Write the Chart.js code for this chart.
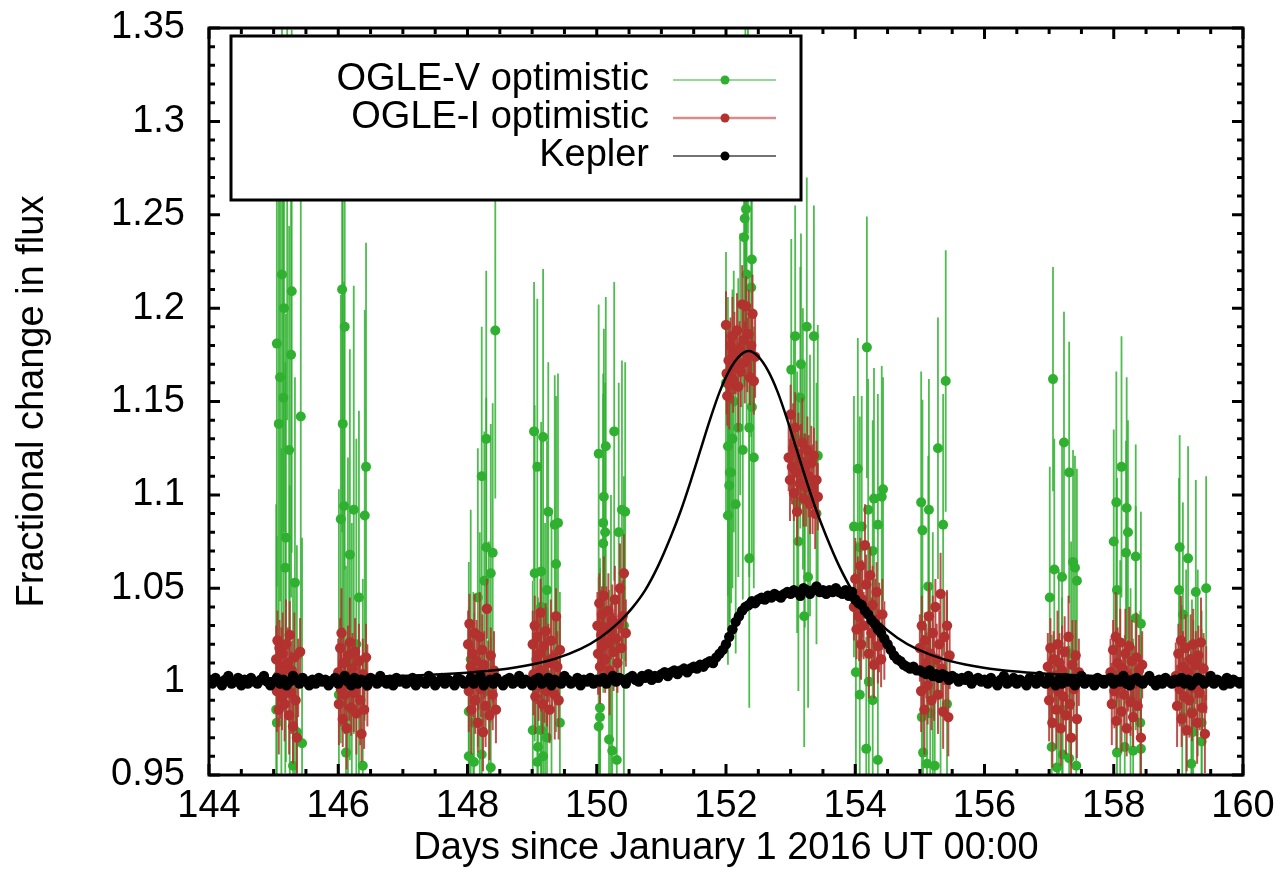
<!DOCTYPE html>
<html>
<head>
<meta charset="utf-8">
<title>Fractional change in flux</title>
<script src="https://cdn.jsdelivr.net/npm/chart.js@4.4.1/dist/chart.umd.min.js"></script>
<style>
  body { margin: 0; background: #fff; }
  canvas { display: block; }
</style>
</head>
<body>
<canvas id="fluxChart" width="1284" height="892"></canvas>
<script>
// Kepler light curve, one value every keplerStep days from keplerStart (one row per day)
const keplerStart = 144.0;
const keplerStep = 0.05;
const keplerFlux = [
  1.001, 0.999, 1.002, 1.000, 0.998, 1.001, 1.003, 0.999, 1.000, 1.002, 0.998, 1.001, 0.999, 1.002, 1.000, 0.999, 1.001, 1.003, 1.000, 0.998,
  1.000, 1.002, 0.999, 1.001, 0.998, 1.000, 1.003, 1.001, 0.999, 1.002, 1.000, 0.998, 1.001, 0.999, 1.002, 1.000, 1.001, 0.998, 1.000, 1.002,
  0.999, 1.001, 1.003, 1.000, 0.998, 1.002, 0.999, 1.001, 1.000, 0.998, 1.002, 1.001, 0.999, 1.003, 1.000, 0.999, 1.001, 0.998, 1.002, 1.000,
  1.001, 0.999, 1.000, 1.002, 0.998, 1.001, 1.000, 0.999, 1.003, 1.001, 0.998, 1.000, 1.002, 0.999, 1.001, 1.000, 0.998, 1.002, 1.001, 0.999,
  1.000, 1.002, 0.999, 1.001, 1.003, 0.998, 1.000, 1.001, 0.999, 1.002, 1.000, 0.998, 1.001, 1.002, 0.999, 1.000, 1.003, 0.999, 1.001, 1.000,
  0.998, 1.001, 1.002, 0.999, 1.000, 1.002, 0.998, 1.001, 1.000, 0.999, 1.003, 1.001, 0.999, 1.000, 1.002, 0.998, 1.001, 1.000, 1.002, 0.999,
  1.001, 1.000, 1.002, 0.999, 1.001, 1.003, 1.000, 1.002, 1.001, 0.999, 1.002, 1.003, 1.001, 1.000, 1.003, 1.002, 1.004, 1.001, 1.003, 1.002,
  1.004, 1.005, 1.003, 1.005, 1.006, 1.004, 1.006, 1.007, 1.005, 1.007, 1.008, 1.007, 1.009, 1.008, 1.010, 1.011, 1.010, 1.013, 1.015, 1.017,
  1.020, 1.024, 1.028, 1.032, 1.035, 1.038, 1.040, 1.041, 1.043, 1.042, 1.044, 1.045, 1.044, 1.046, 1.045, 1.047, 1.046, 1.045, 1.047, 1.048,
  1.047, 1.049, 1.048, 1.046, 1.050, 1.049, 1.047, 1.049, 1.051, 1.048, 1.049, 1.047, 1.049, 1.048, 1.050, 1.048, 1.047, 1.049, 1.046, 1.048,
  1.044, 1.042, 1.041, 1.038, 1.036, 1.033, 1.031, 1.028, 1.026, 1.023, 1.020, 1.017, 1.014, 1.012, 1.011, 1.009, 1.008, 1.007, 1.008, 1.006,
  1.006, 1.005, 1.004, 1.006, 1.003, 1.004, 1.002, 1.004, 1.003, 1.001, 1.003, 1.002, 1.000, 1.002, 1.001, 1.003, 0.999, 1.001, 1.002, 1.000,
  1.001, 0.999, 1.002, 1.000, 0.998, 1.001, 1.003, 0.999, 1.000, 1.002, 0.999, 1.001, 1.000, 0.998, 1.002, 1.001, 0.999, 1.003, 1.000, 0.999,
  1.002, 1.000, 0.998, 1.001, 0.999, 1.002, 1.000, 1.001, 0.998, 1.000, 1.003, 0.999, 1.001, 1.000, 0.998, 1.002, 1.000, 0.999, 1.001, 1.002,
  0.999, 1.001, 1.000, 1.003, 0.999, 0.998, 1.001, 1.002, 1.000, 0.999, 1.001, 1.003, 1.000, 0.998, 1.001, 0.999, 1.002, 1.000, 0.999, 1.001,
  1.000, 1.002, 0.999, 1.001, 0.998, 1.000, 1.002, 1.001, 0.999, 1.000, 1.003, 0.999, 1.001, 1.000, 0.998, 1.002, 0.999, 1.001, 1.000, 0.999,
  1.000
];

// model curve (no key entry)
const modelDays = [144.0, 144.35, 146.35, 147.35, 148.35, 148.85, 149.35, 149.75, 150.05, 150.35,
  150.55, 150.75, 150.95, 151.15, 151.30, 151.45, 151.60, 151.75, 151.90, 152.05,
  152.20, 152.35, 152.50, 152.65, 152.80, 152.95, 153.10, 153.25, 153.40, 153.55,
  153.75, 153.95, 154.15, 154.35, 154.65, 154.95, 155.35, 155.85, 156.35, 157.35,
  158.35, 160.0];
const modelFlux = [1.0014, 1.0015, 1.0025, 1.0035, 1.0058, 1.0082, 1.0122, 1.0175, 1.0235, 1.032,
  1.0395, 1.049, 1.062, 1.078, 1.0915, 1.107, 1.1235, 1.140, 1.155, 1.1665,
  1.174, 1.177, 1.174, 1.1665, 1.155, 1.140, 1.1235, 1.107, 1.0915, 1.078,
  1.062, 1.049, 1.0395, 1.032, 1.0235, 1.0175, 1.0122, 1.0082, 1.0058, 1.0035,
  1.0025, 1.0017];

// OGLE V band: [day, flux, error]
const ogleV = [
  [145.04,0.985,0.11],[145.05,1.181,0.13],[145.05,0.978,0.10],[145.08,1.138,0.12],[145.10,1.163,0.12],
  [145.12,1.005,0.12],[145.13,1.218,0.14],[145.15,1.152,0.13],[145.16,1.200,0.12],[145.18,1.061,0.11],
  [145.19,1.077,0.12],[145.21,1.290,0.15],[145.24,1.124,0.12],[145.25,0.995,0.11],[145.27,1.175,0.13],
  [145.28,1.209,0.14],[145.30,0.955,0.10],[145.33,1.053,0.11],[145.36,0.973,0.10],[145.42,1.142,0.13],
  [145.44,0.967,0.11],
  [146.01,0.993,0.11],[146.04,1.087,0.12],[146.06,1.210,0.13],[146.07,1.138,0.12],[146.09,1.094,0.12],
  [146.10,1.190,0.13],[146.12,0.962,0.10],[146.15,1.010,0.11],[146.18,1.068,0.11],[146.21,0.985,0.10],
  [146.24,1.092,0.12],[146.28,1.020,0.11],[146.32,1.045,0.10],[146.38,0.955,0.10],[146.41,1.089,0.11],
  [146.43,1.115,0.12],
  [148.02,0.984,0.08],[148.02,0.960,0.08],[148.05,1.012,0.08],[148.09,0.978,0.07],[148.10,0.957,0.08],
  [148.16,1.045,0.08],[148.19,1.000,0.08],[148.22,1.110,0.08],[148.22,0.961,0.07],[148.26,1.054,0.08],
  [148.29,1.130,0.09],[148.29,1.072,0.08],[148.33,0.995,0.08],[148.36,1.058,0.08],[148.36,0.954,0.07],
  [148.39,1.069,0.08],[148.43,1.188,0.09],
  [149.01,0.974,0.08],[149.03,1.134,0.08],[149.04,1.058,0.09],[149.08,1.115,0.09],[149.08,0.957,0.08],
  [149.09,0.965,0.08],[149.14,1.059,0.08],[149.14,1.040,0.09],[149.14,0.974,0.08],[149.17,1.131,0.09],
  [149.17,0.960,0.08],[149.20,1.005,0.08],[149.23,1.049,0.08],[149.23,0.970,0.07],[149.25,1.091,0.08],
  [149.30,1.010,0.08],[149.35,1.084,0.08],[149.37,1.063,0.09],[149.40,1.085,0.08],[149.43,0.978,0.07],
  [150.03,1.122,0.08],[150.03,0.976,0.08],[150.05,0.986,0.08],[150.05,0.981,0.08],[150.10,1.085,0.08],
  [150.10,1.074,0.08],[150.11,1.099,0.09],[150.13,1.080,0.08],[150.14,1.126,0.08],[150.19,0.969,0.08],
  [150.22,1.020,0.08],[150.24,0.963,0.08],[150.27,1.134,0.08],[150.31,0.958,0.07],[150.34,1.080,0.08],
  [150.39,1.092,0.08],[150.42,1.030,0.08],[150.44,1.091,0.08],
  [152.00,1.160,0.07],[152.03,1.126,0.08],[152.03,1.089,0.08],[152.05,1.105,0.08],[152.06,1.112,0.08],
  [152.08,1.112,0.07],[152.10,1.130,0.08],[152.12,1.150,0.07],[152.15,1.095,0.08],[152.19,1.136,0.08],
  [152.22,1.170,0.07],[152.26,1.124,0.08],[152.28,1.238,0.08],[152.29,1.248,0.09],[152.30,1.300,0.08],
  [152.31,1.253,0.08],[152.32,1.218,0.08],[152.34,1.330,0.09],[152.36,1.136,0.08],[152.36,1.066,0.08],
  [152.39,1.211,0.08],[152.40,1.226,0.08],[152.40,1.147,0.08],[152.43,1.120,0.07],
  [153.01,1.167,0.07],[153.05,1.115,0.07],[153.07,1.185,0.07],[153.10,1.096,0.07],[153.12,1.075,0.08],
  [153.15,1.152,0.07],[153.16,1.170,0.07],[153.19,1.130,0.07],[153.21,1.035,0.07],[153.22,1.099,0.07],
  [153.25,1.190,0.08],[153.27,1.056,0.07],[153.30,1.105,0.07],[153.36,1.185,0.07],[153.40,1.090,0.07],
  [153.42,1.121,0.07],
  [153.98,1.083,0.07],[154.01,1.005,0.07],[154.04,1.114,0.07],[154.07,1.072,0.07],[154.07,0.993,0.07],
  [154.10,1.083,0.07],[154.17,0.964,0.06],[154.18,1.179,0.07],[154.20,1.092,0.07],[154.21,1.000,0.07],
  [154.27,1.070,0.07],[154.27,0.990,0.07],[154.29,1.098,0.07],[154.35,1.084,0.07],[154.35,0.958,0.06],
  [154.41,1.099,0.07],[154.43,1.103,0.06],
  [155.02,1.096,0.07],[155.03,0.981,0.07],[155.04,1.081,0.07],[155.05,0.962,0.06],[155.11,0.956,0.07],
  [155.13,1.051,0.07],[155.14,1.092,0.07],[155.16,0.983,0.07],[155.20,1.010,0.07],[155.23,0.955,0.06],
  [155.28,1.125,0.07],[155.32,0.945,0.06],[155.36,1.084,0.07],[155.40,1.161,0.07],[155.42,0.988,0.06],
  [157.01,1.045,0.07],[157.04,0.965,0.06],[157.06,1.162,0.06],[157.08,1.060,0.07],[157.12,0.954,0.06],
  [157.15,1.000,0.06],[157.20,1.056,0.07],[157.20,0.985,0.06],[157.21,0.961,0.06],[157.23,1.128,0.07],
  [157.31,1.112,0.07],[157.31,0.959,0.06],[157.34,1.015,0.06],[157.37,1.064,0.06],[157.40,1.061,0.06],
  [157.42,0.955,0.06],[157.43,1.054,0.06],
  [158.00,1.075,0.06],[158.04,1.096,0.07],[158.05,1.049,0.06],[158.05,0.962,0.06],[158.10,1.005,0.06],
  [158.12,1.115,0.07],[158.17,0.965,0.06],[158.19,1.069,0.06],[158.20,1.093,0.07],[158.22,1.080,0.06],
  [158.26,0.990,0.06],[158.30,0.963,0.06],[158.34,1.067,0.06],[158.34,1.034,0.06],[158.41,0.978,0.06],
  [158.42,1.031,0.06],[158.42,0.964,0.06],
  [159.01,1.049,0.06],[159.02,1.072,0.06],[159.06,0.981,0.06],[159.07,1.036,0.06],[159.12,1.000,0.06],
  [159.15,1.066,0.06],[159.20,0.956,0.06],[159.21,0.984,0.06],[159.23,0.973,0.06],[159.27,1.048,0.06],
  [159.30,1.010,0.05],[159.36,0.978,0.06],[159.36,0.968,0.06],[159.43,1.050,0.06]
];

// OGLE I band: [day, flux, error]
const ogleI = [
  [145.04,1.012,0.018],[145.05,0.995,0.022],[145.06,1.022,0.016],[145.07,1.003,0.020],[145.08,0.985,0.024],
  [145.09,1.018,0.015],[145.10,0.999,0.019],[145.12,1.008,0.021],[145.13,0.992,0.018],[145.14,1.015,0.022],
  [145.16,1.001,0.016],[145.17,0.988,0.020],[145.19,1.020,0.024],[145.20,0.997,0.015],[145.22,1.010,0.019],
  [145.24,0.982,0.021],[145.25,1.025,0.018],[145.27,0.994,0.022],[145.28,1.006,0.016],[145.30,0.976,0.020],
  [145.32,1.013,0.024],[145.34,0.990,0.015],[145.36,0.970,0.019],[145.38,1.002,0.021],[145.41,1.016,0.018],
  [146.00,1.005,0.018],[146.01,0.988,0.022],[146.03,1.018,0.016],[146.04,0.996,0.020],[146.05,1.026,0.024],
  [146.07,0.980,0.015],[146.08,1.010,0.019],[146.10,0.993,0.021],[146.11,1.003,0.018],[146.13,0.975,0.022],
  [146.15,1.014,0.016],[146.17,0.999,0.020],[146.18,1.021,0.024],[146.20,0.986,0.015],[146.22,1.007,0.019],
  [146.24,0.994,0.021],[146.26,1.016,0.018],[146.28,0.983,0.022],[146.30,1.000,0.016],[146.32,1.011,0.020],
  [146.34,0.990,0.024],[146.36,0.972,0.015],[146.38,1.004,0.019],[146.40,0.985,0.021],[146.43,1.013,0.018],
  [146.45,0.998,0.022],
  [148.01,1.020,0.018],[148.02,0.995,0.022],[148.03,1.031,0.016],[148.05,1.008,0.020],[148.06,0.985,0.024],
  [148.08,1.015,0.015],[148.09,1.000,0.019],[148.11,1.026,0.021],[148.12,0.990,0.018],[148.14,1.011,0.022],
  [148.16,0.978,0.016],[148.17,1.005,0.020],[148.19,1.024,0.024],[148.21,0.996,0.015],[148.23,1.017,0.019],
  [148.24,0.973,0.021],[148.26,1.009,0.018],[148.28,0.987,0.022],[148.30,1.039,0.016],[148.32,1.002,0.020],
  [148.34,0.982,0.024],[148.36,1.014,0.015],[148.39,0.993,0.019],[148.41,1.006,0.021],[148.44,0.985,0.018],
  [149.01,1.020,0.018],[149.02,1.004,0.022],[149.04,1.030,0.016],[149.05,0.992,0.020],[149.07,1.012,0.024],
  [149.08,1.024,0.015],[149.10,0.998,0.019],[149.11,1.015,0.021],[149.13,1.037,0.018],[149.14,1.006,0.022],
  [149.16,0.988,0.016],[149.18,1.019,0.020],[149.19,1.002,0.024],[149.21,1.027,0.015],[149.23,0.995,0.019],
  [149.25,1.010,0.021],[149.27,0.985,0.018],[149.29,1.022,0.022],[149.31,1.001,0.016],[149.33,1.013,0.020],
  [149.35,0.993,0.024],[149.37,1.035,0.015],[149.39,1.008,0.019],[149.41,0.990,0.021],[149.43,1.017,0.018],
  [150.01,1.030,0.018],[150.02,1.015,0.022],[150.04,1.042,0.016],[150.05,1.008,0.020],[150.07,1.025,0.024],
  [150.08,1.036,0.015],[150.10,1.019,0.019],[150.11,1.046,0.021],[150.13,1.012,0.018],[150.15,1.029,0.022],
  [150.17,1.021,0.016],[150.18,1.038,0.020],[150.20,1.006,0.024],[150.22,1.027,0.015],[150.24,1.033,0.019],
  [150.26,1.016,0.021],[150.28,1.044,0.018],[150.30,1.023,0.022],[150.32,1.010,0.016],[150.34,1.031,0.020],
  [150.36,1.050,0.024],[150.38,1.018,0.015],[150.40,1.035,0.019],[150.42,1.058,0.021],[150.45,1.026,0.018],
  [152.00,1.191,0.018],[152.01,1.165,0.022],[152.02,1.153,0.016],[152.04,1.172,0.020],[152.05,1.159,0.024],
  [152.07,1.180,0.015],[152.08,1.168,0.019],[152.10,1.185,0.021],[152.11,1.162,0.018],[152.13,1.176,0.022],
  [152.15,1.170,0.016],[152.17,1.188,0.020],[152.19,1.158,0.024],[152.21,1.178,0.015],[152.23,1.166,0.019],
  [152.25,1.202,0.021],[152.27,1.183,0.018],[152.29,1.171,0.022],[152.31,1.201,0.016],[152.33,1.175,0.020],
  [152.35,1.186,0.024],[152.37,1.163,0.015],[152.39,1.180,0.019],[152.41,1.197,0.021],[152.43,1.161,0.018],
  [152.45,1.174,0.022],
  [152.97,1.120,0.018],[152.99,1.108,0.022],[153.00,1.143,0.016],[153.02,1.115,0.020],[153.04,1.125,0.024],
  [153.05,1.101,0.015],[153.07,1.136,0.019],[153.09,1.112,0.021],[153.10,1.091,0.018],[153.12,1.122,0.022],
  [153.14,1.106,0.016],[153.16,1.118,0.020],[153.18,1.128,0.024],[153.20,1.098,0.015],[153.22,1.114,0.019],
  [153.24,1.104,0.021],[153.26,1.124,0.018],[153.28,1.110,0.022],[153.30,1.095,0.016],[153.32,1.117,0.020],
  [153.34,1.103,0.024],[153.36,1.121,0.015],[153.38,1.090,0.019],[153.40,1.108,0.021],[153.42,1.099,0.018],
  [153.98,1.040,0.018],[154.00,1.055,0.022],[154.02,1.028,0.016],[154.04,1.047,0.020],[154.06,1.035,0.024],
  [154.08,1.062,0.015],[154.09,1.020,0.019],[154.11,1.044,0.021],[154.13,1.030,0.018],[154.15,1.073,0.022],
  [154.17,1.052,0.016],[154.19,1.038,0.020],[154.21,1.015,0.024],[154.23,1.057,0.015],[154.25,1.026,0.019],
  [154.27,1.041,0.021],[154.29,1.009,0.018],[154.31,1.033,0.022],[154.33,1.048,0.016],[154.35,1.019,0.020],
  [154.37,1.029,0.024],[154.40,1.012,0.015],[154.42,1.036,0.019],[154.45,1.022,0.021],
  [155.00,1.018,0.018],[155.02,0.995,0.022],[155.03,1.030,0.016],[155.05,1.005,0.020],[155.07,0.985,0.024],
  [155.08,1.022,0.015],[155.10,1.010,0.019],[155.12,0.998,0.021],[155.14,1.035,0.018],[155.16,1.015,0.022],
  [155.18,0.990,0.016],[155.20,1.026,0.020],[155.22,1.003,0.024],[155.24,1.040,0.015],[155.26,1.012,0.019],
  [155.28,0.993,0.021],[155.30,1.020,0.018],[155.32,1.047,0.022],[155.34,1.007,0.016],[155.36,0.984,0.020],
  [155.38,1.024,0.024],[155.40,1.001,0.015],[155.42,1.030,0.019],[155.44,0.981,0.021],[155.46,1.014,0.018],
  [156.98,1.008,0.018],[157.00,0.990,0.022],[157.02,1.018,0.016],[157.03,0.998,0.020],[157.05,0.978,0.024],
  [157.07,1.012,0.015],[157.09,1.003,0.019],[157.11,0.985,0.021],[157.13,1.020,0.018],[157.14,0.995,0.022],
  [157.16,1.010,0.016],[157.18,0.975,0.020],[157.20,1.006,0.024],[157.22,0.992,0.015],[157.24,1.016,0.019],
  [157.26,0.982,0.021],[157.28,1.001,0.018],[157.30,1.024,0.022],[157.32,0.988,0.016],[157.34,0.970,0.020],
  [157.36,1.009,0.024],[157.38,0.996,0.015],[157.41,1.014,0.019],[157.43,0.980,0.021],[157.46,1.005,0.018],
  [157.95,1.005,0.018],[157.97,0.988,0.022],[157.99,1.017,0.016],[158.01,0.995,0.020],[158.03,1.024,0.024],
  [158.04,0.979,0.015],[158.06,1.010,0.019],[158.08,0.998,0.021],[158.10,1.021,0.018],[158.12,0.984,0.022],
  [158.14,1.007,0.016],[158.16,0.993,0.020],[158.18,1.015,0.024],[158.20,0.975,0.015],[158.22,1.003,0.019],
  [158.24,1.019,0.021],[158.26,0.989,0.018],[158.28,1.011,0.022],[158.30,0.981,0.016],[158.32,0.999,0.020],
  [158.35,1.013,0.024],[158.37,0.987,0.015],[158.39,1.006,0.019],[158.42,0.970,0.021],[158.44,1.009,0.018],
  [158.96,1.003,0.018],[158.98,0.987,0.022],[159.00,1.015,0.016],[159.02,0.996,0.020],[159.04,1.022,0.024],
  [159.05,0.980,0.015],[159.07,1.008,0.019],[159.09,0.992,0.021],[159.11,1.018,0.018],[159.13,0.974,0.022],
  [159.15,1.005,0.016],[159.17,0.990,0.020],[159.19,1.012,0.024],[159.21,0.983,0.015],[159.23,1.020,0.019],
  [159.25,0.997,0.021],[159.27,1.009,0.018],[159.29,0.978,0.022],[159.31,1.014,0.016],[159.33,0.994,0.020],
  [159.35,1.021,0.024],[159.37,0.986,0.015],[159.39,1.007,0.019],[159.41,0.972,0.021],[159.43,1.001,0.018]
];

const seriesNames = ['OGLE-V optimistic', 'OGLE-I optimistic', 'Kepler'];
const xTitle = 'Days since January 1 2016 UT 00:00';
const yTitle = 'Fractional change in flux';

const GREEN = '#30b030';
const RED = '#b3312e';
const FONT = "'Liberation Sans', Arial, Helvetica, sans-serif";

const keplerPoints = keplerFlux.map((f, i) => ({x: keplerStart + i * keplerStep, y: f}));
const modelPoints = modelDays.map((d, i) => ({x: d, y: modelFlux[i]}));

// vertical error bars, drawn just under each dataset's own points
const errorBars = {
  id: 'errorBars',
  beforeDatasetDraw(chart, args) {
    const ds = chart.data.datasets[args.index];
    if (!ds.errors) return;
    const {ctx, chartArea: a, scales: {x, y}} = chart;
    ctx.save();
    ctx.beginPath();
    ctx.rect(a.left, a.top, a.width, a.height);
    ctx.clip();
    ctx.strokeStyle = ds.errorColor;
    ctx.lineWidth = ds.errorWidth;
    ds.data.forEach((p, i) => {
      const px = x.getPixelForValue(p.x);
      ctx.beginPath();
      ctx.moveTo(px, y.getPixelForValue(p.y - ds.errors[i]));
      ctx.lineTo(px, y.getPixelForValue(p.y + ds.errors[i]));
      ctx.stroke();
    });
    ctx.restore();
  }
};

// gnuplot style border with inward major / minor ticks on all sides
const frame = {
  id: 'frame',
  afterDatasetsDraw(chart) {
    const {ctx, chartArea: a, scales: {x, y}} = chart;
    const major = 11, minor = 6;
    ctx.save();
    ctx.strokeStyle = '#000';
    ctx.lineWidth = 3;
    ctx.beginPath();
    const xt = x.ticks.map(t => t.value);
    for (let i = 0; i < xt.length; i++) {
      const px = x.getPixelForValue(xt[i]);
      ctx.moveTo(px, a.bottom); ctx.lineTo(px, a.bottom - major);
      ctx.moveTo(px, a.top); ctx.lineTo(px, a.top + major);
      if (i < xt.length - 1) {
        for (let k = 1; k < 4; k++) {
          const m = x.getPixelForValue(xt[i] + (xt[i + 1] - xt[i]) * k / 4);
          ctx.moveTo(m, a.bottom); ctx.lineTo(m, a.bottom - minor);
          ctx.moveTo(m, a.top); ctx.lineTo(m, a.top + minor);
        }
      }
    }
    const yt = y.ticks.map(t => t.value);
    for (let i = 0; i < yt.length; i++) {
      const py = y.getPixelForValue(yt[i]);
      ctx.moveTo(a.left, py); ctx.lineTo(a.left + major, py);
      ctx.moveTo(a.right, py); ctx.lineTo(a.right - major, py);
      if (i < yt.length - 1) {
        for (let k = 1; k < 5; k++) {
          const m = y.getPixelForValue(yt[i] + (yt[i + 1] - yt[i]) * k / 5);
          ctx.moveTo(a.left, m); ctx.lineTo(a.left + minor, m);
          ctx.moveTo(a.right, m); ctx.lineTo(a.right - minor, m);
        }
      }
    }
    ctx.stroke();
    ctx.strokeRect(a.left, a.top, a.width, a.height);
    ctx.restore();
  }
};

// opaque key box in the upper left of the plot
const keyBox = {
  id: 'keyBox',
  afterDraw(chart) {
    const {ctx, chartArea: a} = chart;
    const left = a.left + 22, top = a.top + 8, w = 570, h = 164;
    ctx.save();
    ctx.fillStyle = '#fff';
    ctx.fillRect(left, top, w, h);
    ctx.strokeStyle = '#000';
    ctx.lineWidth = 3;
    ctx.strokeRect(left, top, w, h);
    ctx.font = '38px ' + FONT;
    ctx.textAlign = 'right';
    ctx.textBaseline = 'middle';
    chart.data.datasets.forEach(ds => {
      if (ds.keyRow === undefined) return;
      const yy = top + 44 + ds.keyRow * 38;
      ctx.fillStyle = '#000';
      ctx.fillText(ds.label, left + 418, yy);
      ctx.strokeStyle = ds.keyLine;
      ctx.lineWidth = ds.keyLineWidth;
      ctx.beginPath();
      ctx.moveTo(left + 442, yy);
      ctx.lineTo(left + 545, yy);
      ctx.stroke();
      ctx.fillStyle = ds.backgroundColor;
      ctx.beginPath();
      ctx.arc(left + 494, yy, 4.5, 0, Math.PI * 2);
      ctx.fill();
    });
    ctx.restore();
  }
};

const ctx = document.getElementById('fluxChart').getContext('2d');
new Chart(ctx, {
  type: 'scatter',
  data: {
    datasets: [
      {
        label: 'model',
        data: modelPoints,
        showLine: true,
        cubicInterpolationMode: 'monotone',
        borderColor: '#000',
        borderWidth: 2.5,
        pointRadius: 0,
        order: 1
      },
      {
        label: seriesNames[2],
        data: keplerPoints,
        backgroundColor: '#000',
        borderWidth: 0,
        pointRadius: 5.2,
        keyRow: 2, keyLine: '#444', keyLineWidth: 1.5,
        order: 2
      },
      {
        label: seriesNames[1],
        data: ogleI.map(p => ({x: p[0], y: p[1]})),
        errors: ogleI.map(p => p[2]),
        errorColor: 'rgba(179,49,46,0.85)',
        errorWidth: 2,
        backgroundColor: RED,
        borderWidth: 0,
        pointRadius: 5.2,
        keyRow: 1, keyLine: 'rgba(179,49,46,0.55)', keyLineWidth: 2.5,
        order: 3
      },
      {
        label: seriesNames[0],
        data: ogleV.map(p => ({x: p[0], y: p[1]})),
        errors: ogleV.map(p => p[2]),
        errorColor: 'rgba(48,176,48,0.85)',
        errorWidth: 1.8,
        backgroundColor: GREEN,
        borderWidth: 0,
        pointRadius: 5,
        keyRow: 0, keyLine: GREEN, keyLineWidth: 1.2,
        order: 4
      }
    ]
  },
  options: {
    responsive: false,
    animation: false,
    layout: {padding: {left: 0, right: 41, top: 28, bottom: 0}},
    plugins: {legend: {display: false}, tooltip: {enabled: false}},
    scales: {
      x: {
        type: 'linear',
        min: 144, max: 160,
        ticks: {stepSize: 2, color: '#000', padding: 9, maxRotation: 0, font: {family: FONT, size: 38}},
        grid: {display: false, drawTicks: false},
        border: {display: false},
        title: {display: true, text: xTitle, color: '#000', padding: {bottom: 21}, font: {family: FONT, size: 38}},
        afterFit: s => { s.height = 117; s.paddingLeft = 0; s.paddingRight = 0; }
      },
      y: {
        min: 0.95, max: 1.35,
        ticks: {stepSize: 0.05, color: '#000', padding: 24, font: {family: FONT, size: 38},
          callback: v => String(Number(v.toFixed(2)))},
        grid: {display: false, drawTicks: false},
        border: {display: false},
        title: {display: true, text: yTitle, color: '#000', padding: {top: 10}, font: {family: FONT, size: 38}},
        afterFit: s => { s.width = 209; s.paddingTop = 0; s.paddingBottom = 0; }
      }
    }
  },
  plugins: [errorBars, frame, keyBox]
});
</script>
</body>
</html>
